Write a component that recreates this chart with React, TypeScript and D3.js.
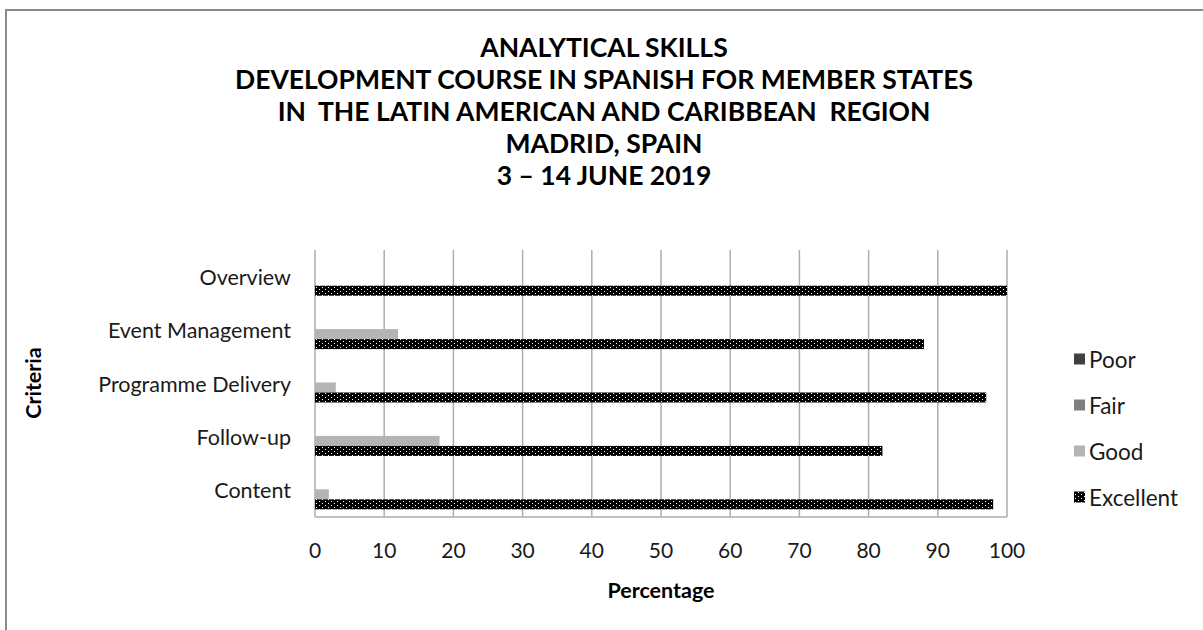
import React from "react";
import * as d3 from "d3";

const titleLines = [
  "ANALYTICAL SKILLS",
  "DEVELOPMENT COURSE IN SPANISH FOR MEMBER STATES",
  "IN  THE LATIN AMERICAN AND CARIBBEAN  REGION",
  "MADRID, SPAIN",
  "3 \u2013 14 JUNE 2019",
];
// top to bottom
const categories = ["Overview", "Event Management", "Programme Delivery", "Follow-up", "Content"];
const seriesNames = ["Poor", "Fair", "Good", "Excellent"];
const poor = [0, 0, 0, 0, 0];
const fair = [0, 0, 0, 0, 0];
const good = [0, 12, 3, 18, 2];
const excellent = [100, 88, 97, 82, 98];
const xTicks = [0, 10, 20, 30, 40, 50, 60, 70, 80, 90, 100];
const colors = ["#404040", "#808080", "#b4b4b4", "url(#dotgrid)"];

const W = 1203;
const H = 630;
const FONT = "Lato, 'Open Sans', sans-serif";

export default function App() {
  const seriesValues = [poor, fair, good, excellent];
  const x = d3.scaleLinear().domain([0, 100]).range([315, 1007]);
  const y = d3.scaleBand().domain(categories).range([250, 517]).padding(0);
  const bw = y.bandwidth();
  const sub = d3
    .scaleBand()
    .domain(seriesNames)
    .range([(bw - 40) / 2 - 1, (bw + 40) / 2 - 1])
    .padding(0);

  return (
    <div style={{ position: "absolute", left: 0, top: 0 }}>
      <svg width={W} height={H} style={{ display: "block", background: "#fff" }}>
        <defs>
          <pattern id="dotgrid" patternUnits="userSpaceOnUse" width={6} height={4}>
            <rect width={6} height={4} fill="#000" />
            <rect x={1} y={1} width={1} height={1} fill="#fff" />
            <rect x={4} y={3} width={1} height={1} fill="#fff" />
          </pattern>
        </defs>
        <rect x={0} y={0} width={W} height={H} fill="#fff" />
        <rect x={6} y={10} width={W + 20} height={H + 20} fill="none" stroke="#8c8c8c" strokeWidth={2} />

        {titleLines.map((t, i) => (
          <text
            key={i}
            x={604}
            y={47 + i * 32}
            textAnchor="middle"
            dominantBaseline="central"
            fontFamily={FONT}
            fontWeight="bold"
            fontSize={26.5}
            fill="#000"
            style={{ whiteSpace: "pre" }}
          >
            {t}
          </text>
        ))}

        {/* gridlines */}
        {xTicks.map((t) => (
          <line key={t} x1={x(t)} x2={x(t)} y1={250} y2={517} stroke="#adadad" strokeWidth={1.5} />
        ))}
        <line x1={x(0)} x2={x(100)} y1={517} y2={517} stroke="#adadad" strokeWidth={1.5} />

        {/* bars */}
        {categories.map((c, ci) =>
          seriesNames.map((s, si) => {
            const v = seriesValues[si][ci];
            if (!v) return null;
            return (
              <rect
                key={c + s}
                x={x(0)}
                y={(y(c) as number) + (sub(s) as number)}
                width={x(v) - x(0)}
                height={sub.bandwidth()}
                fill={colors[si]}
              />
            );
          })
        )}

        {/* category labels */}
        {categories.map((c) => (
          <text
            key={c}
            x={291}
            y={(y(c) as number) + bw / 2}
            textAnchor="end"
            dominantBaseline="central"
            fontFamily={FONT}
            fontSize={21.5}
            fill="#1a1a1a"
          >
            {c}
          </text>
        ))}

        {/* x tick labels */}
        {xTicks.map((t) => (
          <text
            key={t}
            x={x(t)}
            y={549}
            textAnchor="middle"
            dominantBaseline="central"
            fontFamily={FONT}
            fontSize={21}
            fill="#1a1a1a"
          >
            {t}
          </text>
        ))}

        <text x={661} y={590} textAnchor="middle" dominantBaseline="central" fontFamily={FONT} fontWeight="bold" fontSize={21.5} fill="#000">
          Percentage
        </text>
        <text
          transform={`translate(33,383) rotate(-90)`}
          textAnchor="middle"
          dominantBaseline="central"
          fontFamily={FONT}
          fontWeight="bold"
          fontSize={21.5}
          fill="#000"
        >
          Criteria
        </text>

        {/* legend */}
        {seriesNames.map((s, i) => (
          <g key={s} transform={`translate(1074, ${359 + i * 46})`}>
            <rect x={0} y={-5.5} width={11} height={11} fill={colors[i]} />
            <text x={15} y={0} dominantBaseline="central" fontFamily={FONT} fontSize={22.5} fill="#1a1a1a">
              {s}
            </text>
          </g>
        ))}
      </svg>
    </div>
  );
}
